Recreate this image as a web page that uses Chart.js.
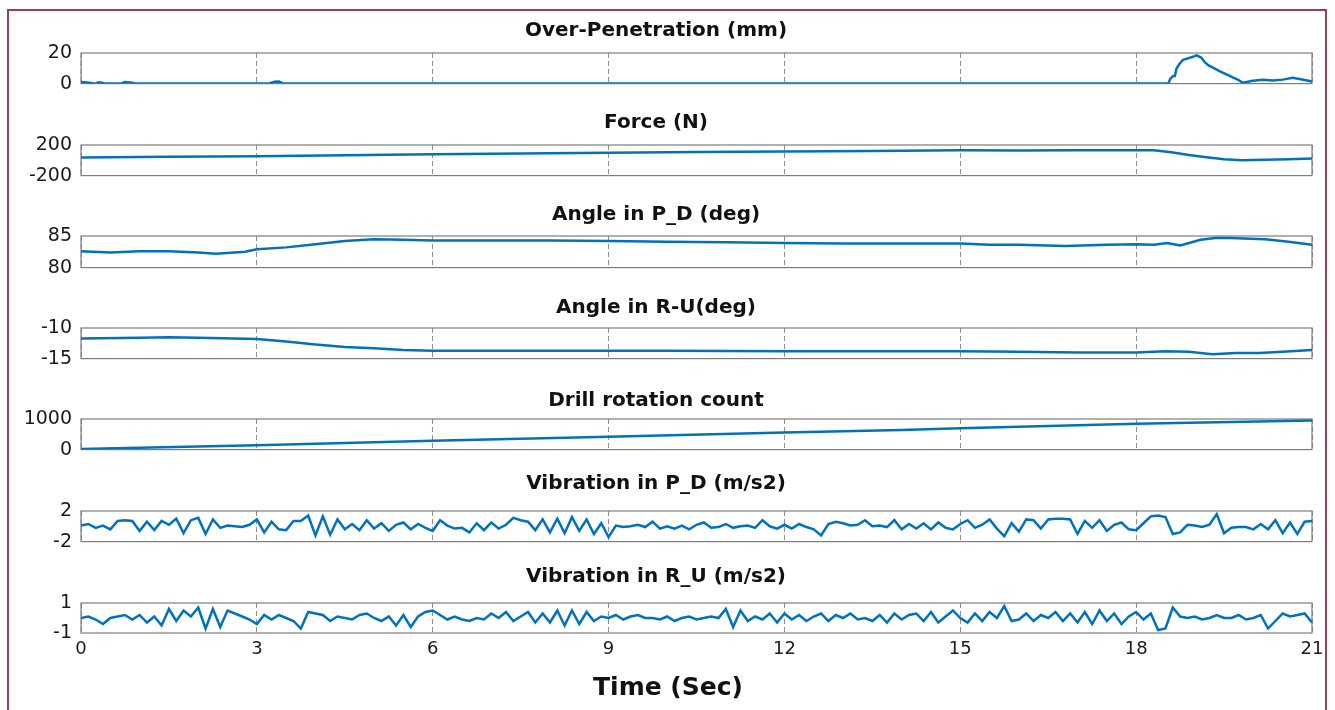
<!DOCTYPE html>
<html>
<head>
<meta charset="utf-8">
<script src="https://cdn.jsdelivr.net/npm/chart.js@4.4.1/dist/chart.umd.min.js"></script>
<style>
  html, body { margin: 0; padding: 0; background: #fff; overflow: hidden; }
  #page { position: relative; width: 1335px; height: 710px; overflow: hidden; }
  #frame { position: absolute; left: 7px; top: 9px; width: 1320px; height: 720px;
           border: 2.5px solid #9a3e60; border-bottom: none; box-sizing: border-box; }
  .panel { position: absolute; left: 0; width: 1362px; }
</style>
</head>
<body>
<div id="page">
  <div id="frame"></div>
</div>
<script>
/* Datos (tiempo en segundos) */
var opTime = [0, 0.1, 0.2, 0.25, 0.3, 0.4, 0.5, 0.7, 0.75, 0.85, 0.95, 3.2, 3.3, 3.38, 3.45,
  18.55, 18.58, 18.63, 18.66, 18.69, 18.74, 18.8, 18.88, 18.97, 19.03, 19.11, 19.17, 19.23, 19.31,
  19.43, 19.54, 19.65, 19.74, 19.82, 19.99, 20.16, 20.33, 20.5, 20.67, 20.81, 20.98, 21];
var opValue = [1.0, 0.8, 0.2, 0.0, 0.9, 0.2, 0.0, 0.3, 1.0, 0.8, 0.0, 0.0, 1.2, 1.4, 0.0,
  0.0, 3.0, 5.0, 5.0, 10.0, 13.0, 15.5, 16.5, 17.5, 18.5, 17.0, 14.0, 12.0, 10.5,
  8.0, 6.0, 4.0, 2.5, 0.5, 1.8, 2.5, 2.0, 2.6, 3.8, 2.8, 1.5, 1.2];

var forceTime = [0, 1.5, 3, 4.5, 6, 7.5, 9, 10.5, 12, 13.5, 15, 16, 17, 18, 18.3, 18.6, 18.9, 19.2, 19.5, 19.8, 20.2, 20.6, 21];
var forceValue = [36, 45, 53, 66, 80, 90, 100, 108, 115, 122, 130, 128, 130, 133, 130, 105, 70, 40, 15, 2, 8, 15, 22];

var apdTime = [0, 0.5, 1, 1.5, 2, 2.3, 2.8, 3, 3.5, 4, 4.5, 5, 5.5, 6, 7, 8, 9, 10, 11, 12,
  13, 14, 15, 15.5, 16, 16.8, 17.5, 18, 18.3, 18.53, 18.75, 19.1, 19.35, 19.6, 20.2, 20.6, 21];
var apdValue = [82.6, 82.4, 82.6, 82.6, 82.4, 82.2, 82.5, 82.9, 83.2, 83.7, 84.2, 84.5, 84.4, 84.3, 84.3, 84.3, 84.2, 84.1, 84.0, 83.9,
  83.8, 83.8, 83.8, 83.6, 83.6, 83.4, 83.6, 83.7, 83.6, 83.9, 83.5, 84.4, 84.7, 84.7, 84.5, 84.1, 83.6];

var aruTime = [0, 1, 1.5, 2, 3, 3.5, 4, 4.5, 5, 5.5, 6, 8, 10, 12, 14, 15, 16, 17, 18, 18.5, 18.9, 19.3, 19.7, 20.1, 20.5, 21];
var aruValue = [-11.7, -11.6, -11.5, -11.6, -11.8, -12.2, -12.7, -13.1, -13.3, -13.6, -13.7, -13.7, -13.7,
  -13.8, -13.8, -13.8, -13.9, -14.0, -14.0, -13.8, -13.9, -14.3, -14.1, -14.1, -13.9, -13.6];

var drillTime = [0, 3, 6, 9, 12, 14, 15, 18, 21];
var drillValue = [20, 140, 287, 420, 560, 643, 700, 843, 953];

/* Vibraciones: 8 muestras por segundo */
var vibPD = [
  0.1, 0.3, -0.2, 0.1, -0.4, 0.7, 0.8, 0.7,
  -0.6, 0.6, -0.5, 0.7, 0.2, 1.0, -0.9, 0.8,
  1.1, -1.0, 0.9, -0.2, 0.1, 0.0, -0.1, 0.2,
  0.9, -0.8, 0.6, -0.4, -0.5, 0.7, 0.7, 1.4,
  -1.2, 1.3, -1.1, 0.9, -0.4, 0.3, -0.5, 0.8,
  -0.3, 0.4, -0.6, 0.2, 0.5, -0.4, 0.3, -0.2,
  -0.6, 0.8, 0.1, -0.3, -0.2, -0.8, 0.4, -0.5,
  0.5, -0.3, 0.2, 1.1, 0.8, 0.6, -0.5, 0.9,
  -0.8, 1.0, -0.9, 1.2, -0.6, 0.9, -1.0, 0.4,
  -1.4, 0.1, -0.1, 0.0, 0.2, -0.1, 0.6, -0.3,
  0.0, -0.3, 0.1, -0.4, 0.2, 0.5, -0.2, -0.1,
  0.3, -0.2, 0.0, 0.1, -0.2, 0.8, 0.0, -0.3,
  0.2, -0.3, 0.3, -0.1, -0.4, -1.2, 0.3, 0.6,
  0.4, 0.1, 0.2, 0.8, 0.0, 0.1, -0.1, 0.8,
  -0.4, 0.3, -0.3, 0.4, -0.4, 0.5, -0.2, -0.4,
  0.3, 0.8, -0.2, 0.2, 0.9, -0.3, -1.3, 0.4,
  -0.7, 0.9, 0.8, -0.3, 0.9, 1.0, 1.0, 0.9,
  -1.0, 0.7, -0.2, 0.8, -0.6, 0.2, 0.5, -0.4,
  -0.5, 0.4, 1.3, 1.4, 1.2, -1.0, -0.8, 0.2,
  0.1, -0.1, 0.2, 1.6, -0.9, -0.2, -0.1, -0.1,
  -0.4, 0.3, -0.4, 0.8, -0.9, 0.5, -1.0, 0.6,
  0.7
];
var vibRU = [
  0.0, 0.1, -0.1, -0.4, 0.0, 0.1, 0.2, -0.1,
  0.2, -0.3, 0.1, -0.5, 0.6, -0.2, 0.5, 0.1,
  0.7, -0.7, 0.6, -0.6, 0.5, 0.3, 0.1, -0.1,
  -0.4, 0.2, -0.1, 0.2, 0.0, -0.2, -0.7, 0.4,
  0.3, 0.2, -0.2, 0.1, 0.0, -0.1, 0.2, 0.3,
  0.0, -0.2, 0.1, -0.5, 0.2, -0.6, 0.1, 0.4,
  0.5, 0.2, -0.1, 0.1, -0.1, -0.2, 0.0, -0.1,
  0.3, 0.0, 0.4, -0.2, 0.1, 0.4, -0.3, 0.3,
  -0.3, 0.5, -0.5, 0.5, -0.4, 0.4, -0.2, 0.1,
  0.0, 0.2, -0.1, 0.1, 0.2, 0.0, 0.0, -0.1,
  0.1, -0.2, 0.0, 0.1, -0.1, 0.0, 0.1, 0.0,
  0.6, -0.6, 0.5, -0.2, 0.1, -0.1, 0.3, -0.3,
  0.3, -0.1, 0.2, -0.2, 0.1, 0.3, -0.2, 0.2,
  0.0, 0.3, -0.1, 0.0, -0.2, 0.2, -0.3, 0.3,
  -0.1, 0.2, 0.3, -0.2, 0.4, -0.3, 0.1, 0.5,
  0.0, -0.3, 0.3, -0.2, 0.4, 0.0, 0.8, -0.2,
  -0.1, 0.3, -0.2, 0.2, 0.0, 0.4, -0.2, 0.3,
  -0.3, 0.4, -0.4, 0.5, -0.2, 0.3, -0.4, 0.1,
  0.4, -0.1, 0.3, -0.8, -0.7, 0.7, 0.1, 0.0,
  0.1, -0.1, 0.0, 0.2, 0.0, 0.0, 0.2, -0.1,
  0.0, 0.2, -0.7, -0.2, 0.3, 0.1, 0.2, 0.3,
  -0.3
];
var vibTime = vibPD.map(function(v, i) { return i / 8; });

var xTicks = [0, 3, 6, 9, 12, 15, 18, 21];
var yTicksOp = [0, 20];
var yTicksForce = [-200, 200];
var yTicksApd = [80, 85];
var yTicksAru = [-15, -10];
var yTicksDrill = [0, 1000];
var yTicksVpd = [-2, 2];
var yTicksVru = [-1, 1];

Chart.defaults.font.family = '"DejaVu Sans", Verdana, sans-serif';
var AZUL = '#0072BD';
var PLOT_LEFT = 81, PLOT_RIGHT = 1312, ANCHO = 1362;
var RESERVA_INFERIOR = 21; // espacio que Chart.js deja bajo el eje en los paneles sin etiquetas

/* Recuadro de cada eje */
var recuadro = {
  id: 'recuadro',
  beforeDatasetsDraw: function(chart) {
    var a = chart.chartArea, c = chart.ctx;
    c.save();
    c.setLineDash([]);
    c.strokeStyle = '#7d7d7d';
    c.lineWidth = 1.2;
    c.strokeRect(a.left, a.top, a.right - a.left, a.bottom - a.top);
    c.restore();
  }
};

function crearPanel(cfg) {
  var top = cfg.titleY - 12;
  var ultimo = !!cfg.ultimo;
  var alto = ultimo ? 710 - top : cfg.plotBottom - top + RESERVA_INFERIOR;
  var div = document.createElement('div');
  div.className = 'panel';
  div.style.top = top + 'px';
  div.style.height = alto + 'px';
  var canvas = document.createElement('canvas');
  canvas.width = ANCHO;
  canvas.height = alto;
  div.appendChild(canvas);
  document.getElementById('page').appendChild(div);

  var puntos = cfg.time.map(function(t, i) { return { x: t, y: cfg.values[i] }; });
  var extras = [recuadro];
  if (ultimo) {
    // Etiqueta del eje de tiempo
    extras.push({
      id: 'etiquetaTiempo',
      afterDraw: function(chart) {
        var c = chart.ctx;
        c.save();
        c.font = 'bold 25px "DejaVu Sans", Verdana, sans-serif';
        c.fillStyle = '#111';
        c.textAlign = 'center';
        c.textBaseline = 'middle';
        c.fillText('Time (Sec)', 668, 688 - top);
        c.restore();
      }
    });
  }

  return new Chart(canvas, {
    type: 'line',
    data: {
      datasets: [{
        data: puntos,
        borderColor: AZUL,
        borderWidth: 2.5,
        pointRadius: 0,
        fill: false,
        tension: 0
      }]
    },
    options: {
      responsive: false,
      animation: false,
      devicePixelRatio: 1,
      layout: { padding: { left: 0, right: ANCHO - PLOT_RIGHT, top: 0, bottom: 0 } },
      plugins: {
        legend: { display: false },
        tooltip: { enabled: false },
        title: {
          display: true,
          text: cfg.title,
          color: '#111',
          font: { size: 20, weight: 'bold' },
          padding: { top: 0, bottom: cfg.plotTop - cfg.titleY - 12 }
        }
      },
      scales: {
        x: {
          type: 'linear',
          min: 0,
          max: 21,
          afterBuildTicks: function(s) { s.ticks = xTicks.map(function(v) { return { value: v }; }); },
          afterFit: function(s) { s.height = ultimo ? 710 - cfg.plotBottom : 12; },
          ticks: {
            display: ultimo,
            padding: 6,
            color: '#1a1a1a',
            font: { size: 18 },
            maxRotation: 0,
            callback: function(v) { return String(v); }
          },
          grid: { color: '#8f8f8f', lineWidth: 1, drawTicks: false },
          border: { display: false, dash: [5, 3] }
        },
        y: {
          min: cfg.yTicks[0],
          max: cfg.yTicks[cfg.yTicks.length - 1],
          afterBuildTicks: function(s) { s.ticks = cfg.yTicks.map(function(v) { return { value: v }; }); },
          afterFit: function(s) { s.width = PLOT_LEFT; },
          ticks: {
            padding: 9,
            color: '#1a1a1a',
            font: { size: 19 },
            callback: function(v) { return String(v); }
          },
          grid: { display: false, drawTicks: false },
          border: { display: false }
        }
      }
    },
    plugins: extras
  });
}

crearPanel({ title: 'Over-Penetration (mm)', titleY: 31, plotTop: 53, plotBottom: 83, yTicks: yTicksOp, time: opTime, values: opValue });
crearPanel({ title: 'Force (N)', titleY: 123, plotTop: 145, plotBottom: 175, yTicks: yTicksForce, time: forceTime, values: forceValue });
crearPanel({ title: 'Angle in P_D (deg)', titleY: 215, plotTop: 236, plotBottom: 267, yTicks: yTicksApd, time: apdTime, values: apdValue });
crearPanel({ title: 'Angle in R-U(deg)', titleY: 308, plotTop: 328, plotBottom: 358, yTicks: yTicksAru, time: aruTime, values: aruValue });
crearPanel({ title: 'Drill rotation count', titleY: 401, plotTop: 419, plotBottom: 449, yTicks: yTicksDrill, time: drillTime, values: drillValue });
crearPanel({ title: 'Vibration in P_D (m/s2)', titleY: 484, plotTop: 511, plotBottom: 541, yTicks: yTicksVpd, time: vibTime, values: vibPD });
crearPanel({ title: 'Vibration in R_U (m/s2)', titleY: 577, plotTop: 603, plotBottom: 633, yTicks: yTicksVru, time: vibTime, values: vibRU, ultimo: true });
</script>
</body>
</html>
